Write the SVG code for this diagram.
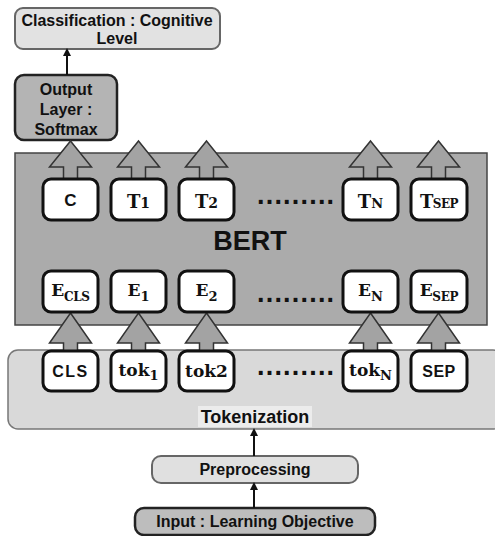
<svg xmlns="http://www.w3.org/2000/svg" width="495" height="536" viewBox="0 0 495 536">
<defs>
<marker id="ah" markerWidth="8" markerHeight="8" refX="4" refY="4" orient="auto" markerUnits="userSpaceOnUse" viewBox="0 0 8 8"><path d="M0,0 L8,4 L0,8 Z" fill="#111"/></marker>
<style>
.sans{font-family:"Liberation Sans",Arial,sans-serif;font-weight:bold;fill:#111;text-anchor:middle}
.ser{font-family:"DejaVu Serif","Liberation Serif",serif;font-weight:bold;fill:#111;text-anchor:middle}
.dots{font-family:"Liberation Sans",Arial,sans-serif;font-weight:bold;fill:#111;font-size:27px;letter-spacing:1.2px}
.tb{fill:#fff;stroke:#111;stroke-width:3}
.blk{fill:#a3a3a3;stroke:#333;stroke-width:1.5;stroke-linejoin:miter}
.thin{stroke:#111;stroke-width:2;fill:none;marker-end:url(#ah)}
</style>
</defs>
<rect width="495" height="536" fill="#fff"/>

<g id="classification">
<rect x="15" y="8" width="205" height="41" rx="8" fill="#e2e2e2" stroke="#666" stroke-width="2"/>
<text class="sans" x="117" y="26" font-size="16">Classification : Cognitive</text>
<text class="sans" x="117" y="44" font-size="16">Level</text>
</g>
<g id="output">
<rect x="15" y="75" width="102" height="65" rx="9" fill="#b4b4b4" stroke="#222" stroke-width="2.5"/>
<text class="sans" x="66" y="95" font-size="16">Output</text>
<text class="sans" x="66" y="115" font-size="16">Layer :</text>
<text class="sans" x="66" y="135" font-size="16">Softmax</text>
</g>
<g id="bert">
<rect x="15" y="153" width="472" height="172" fill="#ababab" stroke="#444" stroke-width="1.5"/>
<text class="sans" x="250" y="250" font-size="27">BERT</text>
</g>
<g id="tokenization">
<rect x="8" y="350" width="495" height="79" rx="10" fill="#d9d9d9" stroke="#777" stroke-width="1.5"/>
<rect x="198" y="406" width="114" height="21" fill="#ececec"/>
<text class="sans" x="255" y="423" font-size="18">Tokenization</text>
</g>
<g id="preprocessing">
<rect x="152" y="456" width="206" height="27" rx="9" fill="#e0e0e0" stroke="#666" stroke-width="2"/>
<text class="sans" x="255" y="475" font-size="16">Preprocessing</text>
</g>
<g id="input">
<rect x="135" y="508" width="240" height="27" rx="9" fill="#bdbdbd" stroke="#222" stroke-width="2.5"/>
<text class="sans" x="255" y="527" font-size="16">Input : Learning Objective</text>
</g>

<g id="connectors">
<line class="thin" x1="67" y1="75" x2="67" y2="52"/>
<line class="thin" x1="254" y1="456" x2="254" y2="432"/>
<line class="thin" x1="254" y1="508" x2="254" y2="486"/>
<path class="blk" d="M70.5,141 L91.5,167 L77.5,167 L77.5,179 L63.5,179 L63.5,167 L49.5,167 Z"/>
<path class="blk" d="M138.5,141 L159.5,167 L145.5,167 L145.5,179 L131.5,179 L131.5,167 L117.5,167 Z"/>
<path class="blk" d="M206.5,141 L227.5,167 L213.5,167 L213.5,179 L199.5,179 L199.5,167 L185.5,167 Z"/>
<path class="blk" d="M370.5,141 L391.5,167 L377.5,167 L377.5,179 L363.5,179 L363.5,167 L349.5,167 Z"/>
<path class="blk" d="M438.5,141 L459.5,167 L445.5,167 L445.5,179 L431.5,179 L431.5,167 L417.5,167 Z"/>
<path class="blk" d="M70.5,313 L91.5,343 L77.5,343 L77.5,351 L63.5,351 L63.5,343 L49.5,343 Z"/>
<path class="blk" d="M138.5,313 L159.5,343 L145.5,343 L145.5,351 L131.5,351 L131.5,343 L117.5,343 Z"/>
<path class="blk" d="M206.5,313 L227.5,343 L213.5,343 L213.5,351 L199.5,351 L199.5,343 L185.5,343 Z"/>
<path class="blk" d="M370.5,313 L391.5,343 L377.5,343 L377.5,351 L363.5,351 L363.5,343 L349.5,343 Z"/>
<path class="blk" d="M438.5,313 L459.5,343 L445.5,343 L445.5,351 L431.5,351 L431.5,343 L417.5,343 Z"/>
</g>

<g id="t-row">
<g id="t-c"><rect class="tb" x="43" y="179" width="55" height="41" rx="8"/><text class="sans" x="70.5" y="206" font-size="17">C</text></g>
<g id="t-1"><rect class="tb" x="111" y="179" width="55" height="41" rx="8"/><text class="ser" x="138.5" y="208" font-size="18">T<tspan font-size="14">1</tspan></text></g>
<g id="t-2"><rect class="tb" x="179" y="179" width="55" height="41" rx="8"/><text class="ser" x="206.5" y="208" font-size="18">T<tspan font-size="14">2</tspan></text></g>
<g id="t-n"><rect class="tb" x="343" y="179" width="55" height="41" rx="8"/><text class="ser" x="370.5" y="208" font-size="18">T<tspan font-size="13">N</tspan></text></g>
<g id="t-sep"><rect class="tb" x="411" y="179" width="56" height="41" rx="8"/><text class="ser" x="439" y="208" font-size="18" letter-spacing="-0.5">T<tspan font-size="12">SEP</tspan></text></g>
<text class="dots" x="257" y="204">.........</text>
</g>

<g id="e-row">
<g id="e-cls"><rect class="tb" x="43" y="271" width="55" height="41" rx="8"/><text class="ser" x="70.5" y="296" font-size="17" letter-spacing="-0.3">E<tspan font-size="12" dy="5">CLS</tspan></text></g>
<g id="e-1"><rect class="tb" x="111" y="271" width="55" height="41" rx="8"/><text class="ser" x="138.5" y="296" font-size="17">E<tspan font-size="13" dy="5">1</tspan></text></g>
<g id="e-2"><rect class="tb" x="179" y="271" width="55" height="41" rx="8"/><text class="ser" x="206.5" y="296" font-size="17">E<tspan font-size="13" dy="5">2</tspan></text></g>
<g id="e-n"><rect class="tb" x="343" y="271" width="55" height="41" rx="8"/><text class="ser" x="370.5" y="296" font-size="17">E<tspan font-size="13" dy="5">N</tspan></text></g>
<g id="e-sep"><rect class="tb" x="411" y="271" width="56" height="41" rx="8"/><text class="ser" x="439" y="296" font-size="17" letter-spacing="-0.3">E<tspan font-size="12" dy="5">SEP</tspan></text></g>
<text class="dots" x="257" y="302">.........</text>
</g>

<g id="tok-row">
<g id="tok-cls"><rect class="tb" x="43" y="351" width="55" height="40" rx="8"/><text class="sans" x="70.5" y="377" font-size="16" letter-spacing="1.5">CLS</text></g>
<g id="tok-1"><rect class="tb" x="111" y="351" width="55" height="40" rx="8"/><text class="ser" x="138.5" y="376" font-size="17">tok<tspan font-size="13" dy="4">1</tspan></text></g>
<g id="tok-2"><rect class="tb" x="179" y="351" width="55" height="40" rx="8"/><text class="ser" x="206.5" y="377" font-size="17">tok2</text></g>
<g id="tok-n"><rect class="tb" x="343" y="351" width="55" height="40" rx="8"/><text class="ser" x="370.5" y="376" font-size="17">tok<tspan font-size="13" dy="4">N</tspan></text></g>
<g id="tok-sep"><rect class="tb" x="411" y="351" width="56" height="40" rx="8"/><text class="sans" x="439" y="377" font-size="16" letter-spacing="0.5">SEP</text></g>
<text class="dots" x="257" y="375">.........</text>
</g>
</svg>
